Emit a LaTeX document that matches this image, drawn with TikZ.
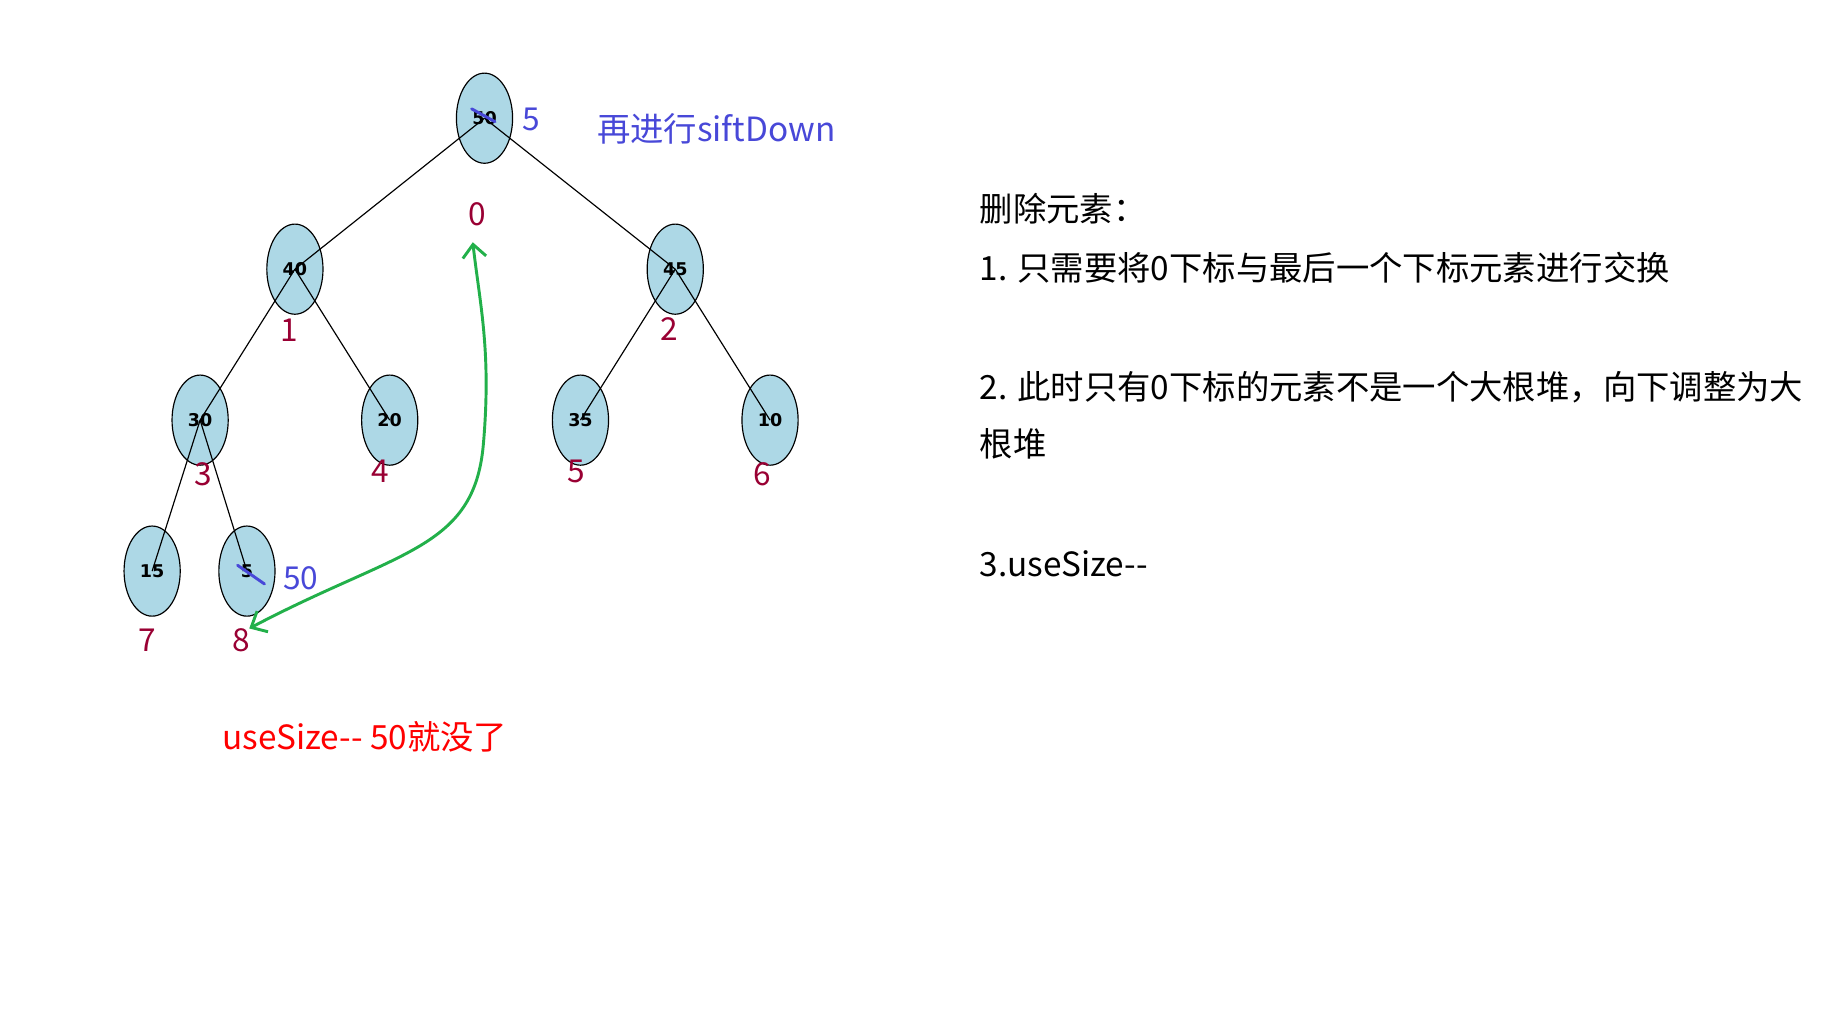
\documentclass[tikz,border=0pt]{standalone}
\usepackage{fontspec}
\setmainfont{Noto Sans CJK SC}
\newfontfamily\nodefont{DejaVu Sans}
\usetikzlibrary{arrows.meta,shapes.geometric}
\definecolor{nodefill}{HTML}{ADD8E6}
\definecolor{idx}{HTML}{990033}
\definecolor{bl}{HTML}{4848D8}
\definecolor{gr}{HTML}{22B04A}
\begin{document}
\begin{tikzpicture}[x=1pt,y=-1pt,
  hn/.style={ellipse,draw=black,line width=1pt,fill=nodefill,minimum width=48pt,minimum height=77pt,inner sep=0pt,font=\nodefont\bfseries\fontsize{15}{15}\selectfont},
  idxl/.style={text=idx,font=\fontsize{27}{27}\selectfont,inner sep=0pt},
  bll/.style={text=bl,font=\fontsize{27}{27}\selectfont,inner sep=0pt},
  txt/.style={anchor=west,inner sep=0pt,font=\fontsize{28.5}{28.5}\selectfont},
  edge/.style={line width=1pt}]
\useasboundingbox (0,0) rectangle (1568,874);
\node[hn] (n0) at (414,101) {50};
\node[hn] (n1) at (252,230) {40};
\node[hn] (n2) at (577,230) {45};
\node[hn] (n3) at (171,359) {30};
\node[hn] (n4) at (333,359) {20};
\node[hn] (n5) at (496,359) {35};
\node[hn] (n6) at (658,359) {10};
\node[hn] (n7) at (130,488) {15};
\node[hn] (n8) at (211,488) {5};
\foreach \a/\b in {0/1,0/2,1/3,1/4,2/5,2/6,3/7,3/8}
  \draw[edge] (n\a.center) -- (n\b.center);
% strike marks
\draw[bl,line width=2.5pt,line cap=round] (403,93) -- (423,104);
\draw[bl,line width=2.5pt,line cap=round] (203,483) -- (226,499);
\node[idxl] (l0) at (408,183) {0};
\node[idxl] (l1) at (247,282) {1};
\node[idxl] (l2) at (572,281) {2};
\node[idxl] (l3) at (174,405) {3};
\node[idxl] (l4) at (325,403) {4};
\node[idxl] (l5) at (492,403) {5};
\node[idxl] (l6) at (651,405) {6};
\node[idxl] (l7) at (126,547) {7};
\node[idxl] (l8) at (206,547) {8};
\node[bll] (b5) at (454,102) {5};
\node[bll] (b50) at (257,494) {50};
\node[txt,text=bl] (sd) at (510,110) {再进行siftDown};
\node[txt,text=red] (us) at (190,630) {useSize-{}- 50就没了};
\node[txt] (t0) at (837,178) {删除元素：};
\node[txt] (t1) at (837,229) {1. 只需要将0下标与最后一个下标元素进行交换};
\node[txt] (t2) at (837,331) {2. 此时只有0下标的元素不是一个大根堆，向下调整为大};
\node[txt] (t3) at (837,379) {根堆};
\node[txt] (t4) at (837,482) {3.useSize-{}-};
\coordinate (ga) at (213,537);
\coordinate (gb) at (404,207);
\draw[gr,line width=2.5pt,{Straight Barb[length=11pt,width=20pt]}-{Straight Barb[length=11pt,width=20pt]}] (ga) .. controls (340,470) and (405,470) .. (413,380) .. controls (420,300) and (410,260) .. (gb);
\end{tikzpicture}
\end{document}
